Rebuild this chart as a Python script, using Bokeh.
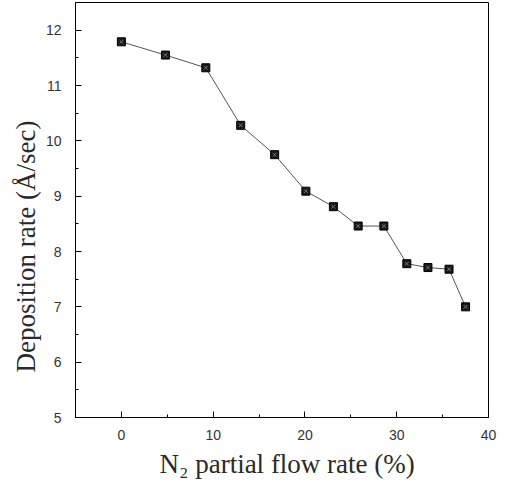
from bokeh.plotting import figure
from bokeh.embed import file_html
from bokeh.resources import INLINE
from bokeh.models import Range1d, FixedTicker, Title

# Data
n2_flow = [0.0, 4.8, 9.2, 13.0, 16.7, 20.1, 23.1, 25.8, 28.6, 31.1, 33.4, 35.7, 37.5]
dep_rate = [11.79, 11.55, 11.32, 10.28, 9.75, 9.09, 8.81, 8.46, 8.46, 7.78, 7.71, 7.68, 7.00]

x_ticks = [0, 10, 20, 30, 40]
x_minor = [5, 15, 25, 35]
y_ticks = [5, 6, 7, 8, 9, 10, 11, 12]

x_title = "N\u2082 partial flow rate (%)"
y_title = "Deposition rate (\u00c5/sec)"

p = figure(width=506, height=485, output_backend="svg", toolbar_location=None,
           x_range=Range1d(-5, 40), y_range=Range1d(5, 12.5),
           min_border_left=75, min_border_right=18, min_border_top=2, min_border_bottom=68)

p.background_fill_color = "white"
p.border_fill_color = "white"
p.outline_line_color = "black"
p.outline_line_width = 1
p.xgrid.visible = False
p.ygrid.visible = False

for ax in (p.xaxis[0], p.yaxis[0]):
    ax.axis_line_color = "black"
    ax.major_tick_in = 6
    ax.major_tick_out = 0
    ax.minor_tick_in = 3
    ax.minor_tick_out = 0
    ax.major_label_text_font = "Liberation Sans"
    ax.major_label_text_font_size = "14px"
    ax.major_label_text_color = "#333333"

p.xaxis[0].ticker = FixedTicker(ticks=x_ticks, minor_ticks=x_minor)
p.yaxis[0].ticker = FixedTicker(ticks=y_ticks, minor_ticks=[v + 0.5 for v in y_ticks])
p.xaxis[0].major_label_standoff = 12
p.yaxis[0].major_label_standoff = 14

# Axis titles as side titles, offset along the axis like the reference
p.add_layout(Title(text=x_title, align="left", offset=84, standoff=9,
                   text_font="Liberation Serif", text_font_size="27px",
                   text_font_style="normal", text_color="#2a2a2a"), "below")
p.add_layout(Title(text=y_title, align="left", offset=45, standoff=4,
                   text_font="Liberation Serif", text_font_size="27px",
                   text_font_style="normal", text_color="#2a2a2a"), "left")

p.line(n2_flow, dep_rate, line_color="#555555", line_width=1)
p.scatter(n2_flow, dep_rate, marker="square", size=8, fill_color="#1a1a1a", line_color="black", line_width=1)
p.scatter(n2_flow, dep_rate, marker="x", size=5, line_color="#777777", line_width=1)

open("out.html", "w").write(file_html(p, INLINE))
